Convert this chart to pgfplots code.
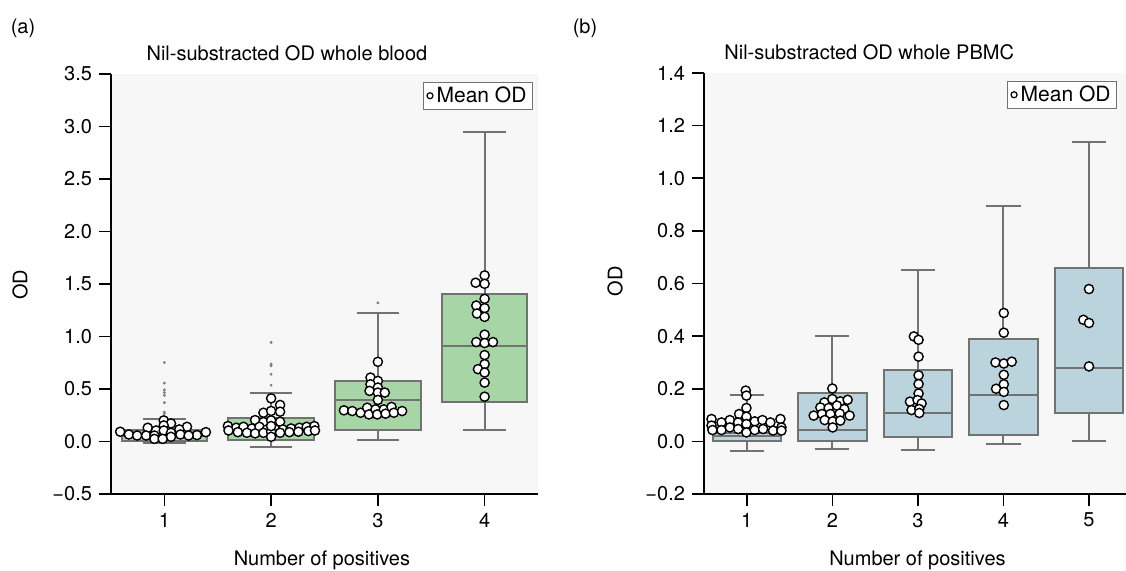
\documentclass[border=0pt]{standalone}
\usepackage{fontspec}
\setmainfont{TeX Gyre Heros}
\usepackage{pgfplots}
\pgfplotsset{compat=1.18}
\usepgfplotslibrary{statistics}
\definecolor{BoxGreen}{HTML}{A8D5A5}
\definecolor{BoxBlue}{HTML}{BAD3DC}
\definecolor{Edge}{HTML}{727272}
\definecolor{Panel}{HTML}{F7F7F7}
\pgfplotsset{
  odpanel/.style={
    scale only axis, anchor=south west,
    axis x line*=bottom, axis y line*=left,
    axis line style={-, black, line width=1.1pt},
    axis background/.style={fill=Panel},
    tick align=outside, major tick length=6pt,
    tick style={black, line width=0.8pt},
    /pgf/number format/assume math mode=true,
    font=\fontsize{10}{12}\selectfont,
    xlabel={Number of positives}, ylabel={OD},
    legend style={draw=Edge, fill=white, inner xsep=1.5pt, inner ysep=0.5pt,
      nodes={inner sep=1.5pt},
      font=\fontsize{10.5}{12}\selectfont, anchor=north east},
    legend image code/.code={\draw[black, fill=white, line width=0.6pt] (0.06cm,0cm) circle (1.5pt);},
  },
  meanpts/.style={only marks, mark=*, mark size=2.3pt,
    mark options={fill=white, draw=black, line width=0.7pt}},
  flier/.style={only marks, mark=*, mark size=0.5pt,
    mark options={draw=gray, fill=gray}, forget plot},
  odbox/.style={draw=Edge, line width=1pt, solid, mark=none, forget plot,
    boxplot/draw direction=y, boxplot/box extend=0.8, boxplot/whisker extend=0.4},
}
\begin{document}
\begin{tikzpicture}
\useasboundingbox (0,0) rectangle (563pt,-285pt);
\node at (11.5pt,-14pt) {(a)};
\node at (292.5pt,-14pt) {(b)};

% (a) whole blood
\begin{axis}[odpanel,
  at={(55.5pt,-247pt)}, width=213.5pt, height=210pt,
  xmin=0.5, xmax=4.5, ymin=-0.5, ymax=3.5,
  xtick={1,2,3,4},
  ytick={-0.5,0,0.5,1,1.5,2,2.5,3,3.5},
  yticklabels={−0.5,0.0,0.5,1.0,1.5,2.0,2.5,3.0,3.5},
  title={Nil-substracted OD whole blood},
  title style={at={(axis description cs:0.412,1)}, anchor=base, yshift=1pt},
  xlabel style={at={(axis description cs:0.494,-0.157)}, anchor=center},
  ylabel style={at={(axis description cs:-0.213,0.498)}, anchor=center},
  legend style={at={(rel axis cs:0.988,0.981)}},
]
\addplot[odbox, fill=BoxGreen, boxplot prepared={draw position=1,
  lower whisker=-0.01, lower quartile=0.003, median=0.05, upper quartile=0.11, upper whisker=0.21}] coordinates {};
\addplot[odbox, fill=BoxGreen, boxplot prepared={draw position=2,
  lower whisker=-0.05, lower quartile=0.01, median=0.10, upper quartile=0.22, upper whisker=0.466}] coordinates {};
\addplot[odbox, fill=BoxGreen, boxplot prepared={draw position=3,
  lower whisker=0.01, lower quartile=0.105, median=0.392, upper quartile=0.577, upper whisker=1.22}] coordinates {};
\addplot[odbox, fill=BoxGreen, boxplot prepared={draw position=4,
  lower whisker=0.108, lower quartile=0.376, median=0.912, upper quartile=1.407, upper whisker=2.95}] coordinates {};
% outliers
\addplot[flier] coordinates {(1,0.752) (1,0.556) (1,0.492) (1,0.466) (1,0.440) (1,0.370) (1,0.281) (1,0.265)
  (2,0.944) (2,0.737) (2,0.721) (2,0.641) (2,0.536) (3,1.320)};
% mean OD per donor
\addplot[meanpts] coordinates {
  (0.994,0.201) (1.062,0.172) (0.994,0.153) (1.212,0.140) (0.844,0.131) (1.140,0.115) (0.922,0.105)
  (0.994,0.105) (0.586,0.093) (1.389,0.089) (1.062,0.083) (0.667,0.067) (1.150,0.067) (1.305,0.061)
  (0.745,0.057) (0.829,0.057) (0.907,0.057) (1.227,0.057) (1.062,0.045) (0.907,0.025) (0.984,0.025)
  (2.000,0.411) (2.084,0.348) (1.928,0.274) (2.000,0.291) (2.084,0.284) (1.850,0.204) (1.928,0.185)
  (2.000,0.201) (2.084,0.188) (1.595,0.147) (1.673,0.131) (1.741,0.140) (1.819,0.124) (1.891,0.140)
  (1.960,0.115) (2.037,0.118) (2.109,0.115) (2.187,0.124) (2.265,0.131) (2.333,0.140) (2.405,0.147)
  (1.601,0.105) (1.688,0.089) (1.773,0.083) (1.850,0.077) (1.928,0.083) (2.000,0.093) (2.084,0.083)
  (2.171,0.089) (2.255,0.093) (2.349,0.099) (2.411,0.105) (2.000,0.045) (2.000,0.147)
  (3.000,0.759) (2.931,0.609) (3.000,0.577) (2.931,0.545) (3.000,0.514) (2.922,0.482) (3.000,0.466)
  (3.065,0.466) (3.000,0.396) (2.682,0.297) (2.760,0.290) (2.838,0.274) (2.900,0.322) (2.916,0.258)
  (2.978,0.306) (2.994,0.258) (3.056,0.306) (3.072,0.265) (3.128,0.329) (3.150,0.274) (3.227,0.290)
  (4.000,1.582) (3.916,1.512) (4.000,1.502) (4.000,1.359) (3.922,1.295) (4.000,1.270) (3.928,1.219)
  (4.000,1.187) (4.000,1.018) (3.922,0.947) (4.000,0.938) (4.078,0.947) (4.000,0.823) (4.000,0.737)
  (3.938,0.689) (4.000,0.657) (4.000,0.561) (4.000,0.427)
};
\addlegendentry{Mean OD}
\end{axis}

% (b) whole PBMC
\begin{axis}[odpanel,
  at={(352pt,-247pt)}, width=211.75pt, height=210.5pt,
  xmin=0.5, xmax=5.45, ymin=-0.2, ymax=1.4,
  xtick={1,2,3,4,5},
  ytick={-0.2,0,0.2,0.4,0.6,0.8,1,1.2,1.4},
  yticklabels={−0.2,0.0,0.2,0.4,0.6,0.8,1.0,1.2,1.4},
  title={Nil-substracted OD whole PBMC},
  title style={at={(axis description cs:0.39,1)}, anchor=base, yshift=1pt},
  xlabel style={at={(axis description cs:0.504,-0.157)}, anchor=center},
  ylabel style={at={(axis description cs:-0.21,0.505)}, anchor=center},
  legend style={at={(rel axis cs:0.975,0.981)}},
]
\addplot[odbox, fill=BoxBlue, boxplot prepared={draw position=1,
  lower whisker=-0.035, lower quartile=0.0, median=0.02, upper quartile=0.03, upper whisker=0.175}] coordinates {};
\addplot[odbox, fill=BoxBlue, boxplot prepared={draw position=2,
  lower whisker=-0.029, lower quartile=0.0, median=0.044, upper quartile=0.185, upper whisker=0.40}] coordinates {};
\addplot[odbox, fill=BoxBlue, boxplot prepared={draw position=3,
  lower whisker=-0.033, lower quartile=0.015, median=0.108, upper quartile=0.271, upper whisker=0.651}] coordinates {};
\addplot[odbox, fill=BoxBlue, boxplot prepared={draw position=4,
  lower whisker=-0.01, lower quartile=0.025, median=0.177, upper quartile=0.391, upper whisker=0.893}] coordinates {};
\addplot[odbox, fill=BoxBlue, boxplot prepared={draw position=5,
  lower whisker=0.0, lower quartile=0.109, median=0.279, upper quartile=0.659, upper whisker=1.136}] coordinates {};
\addplot[meanpts] coordinates {
  (0.988,0.193) (0.996,0.174) (0.996,0.127) (0.911,0.104) (0.996,0.094) (0.588,0.085) (0.704,0.072)
  (0.802,0.081) (0.899,0.072) (1.093,0.076) (1.183,0.081) (1.276,0.072) (1.393,0.085) (0.588,0.060)
  (0.704,0.043) (0.802,0.053) (0.899,0.047) (0.996,0.066) (0.996,0.034) (1.093,0.043) (1.191,0.047)
  (1.307,0.041) (1.405,0.053) (0.599,0.043) (1.405,0.041)
  (2.000,0.201) (1.907,0.148) (2.000,0.161) (2.093,0.152) (2.179,0.158) (1.860,0.129) (1.957,0.127)
  (2.054,0.136) (2.140,0.123) (1.782,0.098) (1.879,0.104) (1.977,0.104) (2.086,0.106) (2.202,0.098)
  (1.911,0.081) (2.004,0.076) (2.093,0.079) (2.004,0.053)
  (2.953,0.399) (3.008,0.386) (3.008,0.322) (3.008,0.251) (3.008,0.218) (3.008,0.182) (2.907,0.151)
  (2.996,0.157) (3.043,0.144) (2.926,0.119) (3.016,0.123) (3.016,0.108)
  (4.004,0.488) (4.004,0.413) (3.907,0.300) (4.004,0.296) (4.097,0.303) (4.004,0.253) (4.004,0.217)
  (3.914,0.200) (4.004,0.188) (4.004,0.138)
  (5.000,0.579) (4.934,0.462) (5.000,0.450) (5.000,0.285)
};
\addlegendentry{Mean OD}
\end{axis}
\end{tikzpicture}
\end{document}
